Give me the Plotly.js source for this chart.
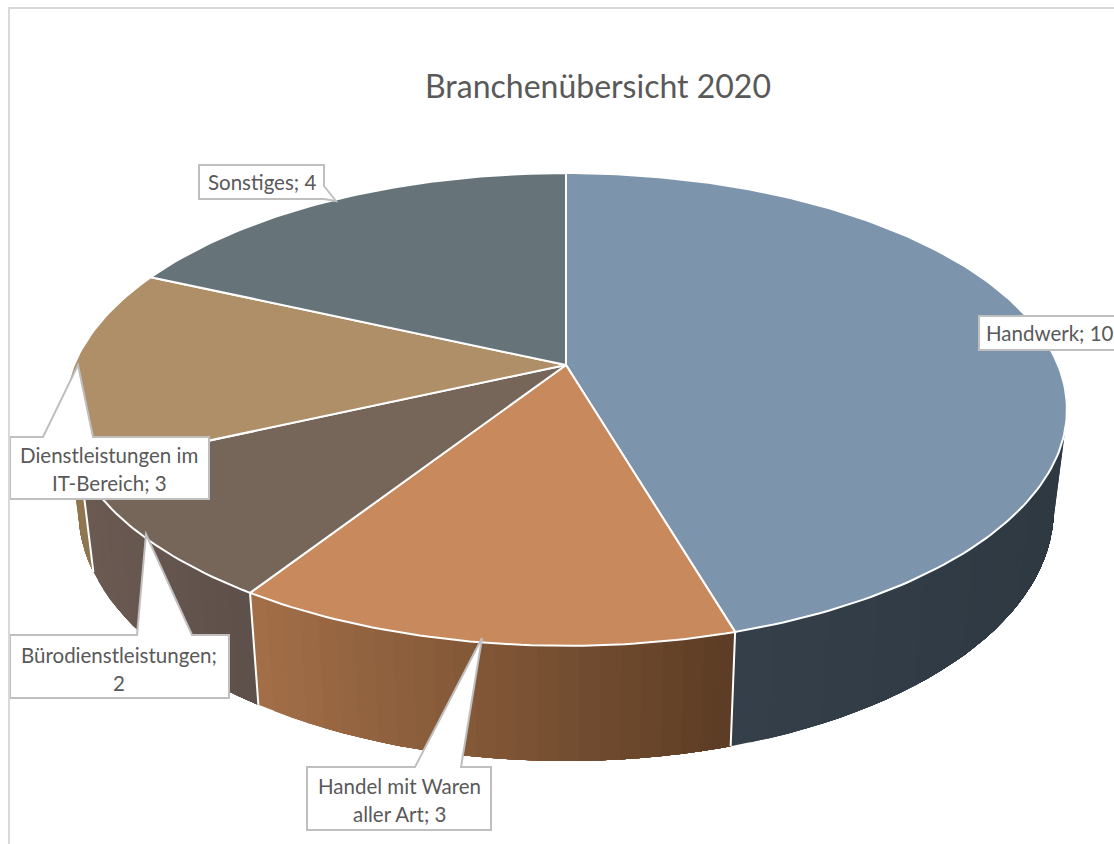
<!DOCTYPE html>
<html>
<head>
<meta charset="utf-8">
<script src="https://cdn.plot.ly/plotly-3.0.1.min.js"></script>
<style>html,body{margin:0;padding:0;background:#fff;overflow:hidden}</style>
</head>
<body>
<div id="chart" style="width:1114px;height:844px"></div>
<script>
const categories = ['Handwerk','Handel mit Waren aller Art','Bürodienstleistungen','Dienstleistungen im IT-Bereich','Sonstiges'];
const values = [10,3,2,3,4];
const labelLines = [['Handwerk; 10'],['Handel mit Waren','aller Art; 3'],['Bürodienstleistungen;','2'],['Dienstleistungen im','IT-Bereich; 3'],['Sonstiges; 4']];
const topColors = ['#7D95AC','#C8895C','#76665A','#AE8F68','#667479'];
const sideRight = ['#2F3942','#5A3B24','#5D4F49','#98805C','#566369'];
const sideLeft  = ['#343F4A','#A26E47','#6A5A52','#907650','#566369'];

// Perspective view of the pie disc (pixel-scaled axes)
const K = 0.188, CX = 566, TOP_Y = 365, TOP_RX = 492, TOP_RY = 228, BOT_Y = 463, BOT_RX = 479, BOT_RY = 242;
function proj(deg, level) {
  const a = deg * Math.PI / 180, u = Math.sin(a), v = -Math.cos(a), w = 1 - K * v;
  return level === 0 ? [CX + TOP_RX * u / w, TOP_Y + TOP_RY * v / w]
                     : [CX + BOT_RX * u / w, BOT_Y + BOT_RY * v / w];
}
function hex(c){return [1,3,5].map(i=>parseInt(c.substr(i,2),16));}
function mix(c1,c2,t){const a=hex(c1),b=hex(c2);return 'rgb('+a.map((x,i)=>Math.round(x+(b[i]-x)*t)).join(',')+')';}

const total = values.reduce((s,x)=>s+x,0);
const bounds = [0];
values.forEach(x => bounds.push(bounds[bounds.length-1] + x / total * 360));

const traces = [];
const base = {type:'scatter',mode:'lines',fill:'toself',hoverinfo:'skip',showlegend:false};

// rim strips (side wall): each strip reaches back under the previous one so no seams show
const RIM_FROM = 88, RIM_TO = 272, STEP = 2;
values.forEach((val,i) => {
  const a0 = Math.max(bounds[i], RIM_FROM), a1 = Math.min(bounds[i+1], RIM_TO);
  if (a1 <= a0) return;
  const xa = proj(a0,0)[0], xb = proj(a1,0)[0];
  for (let d = a1 - STEP; d > a0 - STEP; d -= STEP) {
    const s = Math.max(d, a0);
    const p1 = proj(a0,0), p2 = proj(s + STEP,0), p3 = proj(s + STEP,1), p4 = proj(a0,1);
    const xs=[], ys=[];
    for (let g = a0; g < s + STEP; g += STEP) { const p = proj(g,0); xs.push(p[0]); ys.push(p[1]); }
    xs.push(p2[0]); ys.push(p2[1]); xs.push(p3[0]); ys.push(p3[1]);
    for (let g = s + STEP - STEP; g >= a0; g -= STEP) { const p = proj(g,1); xs.push(p[0]); ys.push(p[1]); }
    xs.push(p4[0]); ys.push(p4[1]); xs.push(p1[0]); ys.push(p1[1]);
    const t = (p2[0]-xa)/((xb-xa)||1);
    const col = mix(sideRight[i], sideLeft[i], Math.max(0,Math.min(1,t)));
    traces.push(Object.assign({}, base, {x:xs,y:ys,fillcolor:col,line:{color:col,width:0},name:categories[i]}));
  }
});
// white seams on the rim
bounds.slice(1,-1).forEach(b => {
  if (b < RIM_FROM || b > RIM_TO) return;
  const p = proj(b,0), q = proj(b,1);
  traces.push({type:'scatter',mode:'lines',hoverinfo:'skip',showlegend:false,
    x:[p[0],q[0]],y:[p[1],q[1]],line:{color:'#FFFFFF',width:2}});
});
// top faces
values.forEach((val,i) => {
  const xs=[CX], ys=[TOP_Y];
  const n = Math.ceil((bounds[i+1]-bounds[i])/1);
  for (let j=0;j<=n;j++){
    const p = proj(bounds[i]+(bounds[i+1]-bounds[i])*j/n,0);
    xs.push(p[0]); ys.push(p[1]);
  }
  xs.push(CX); ys.push(TOP_Y);
  traces.push(Object.assign({}, base, {x:xs,y:ys,fillcolor:topColors[i],
    line:{color:'#FFFFFF',width:2},name:categories[i]}));
});

// callout outlines: box plus tail, in pixels
const callouts = [
  'M979,316 L1120,316 L1120,350 L979,350 Z',
  'M307,767 L415,767 L482,638 L461,767 L491,767 L491,830 L307,830 Z',
  'M10,635 L137,635 L146,534 L192,635 L229,635 L229,698 L10,698 Z',
  'M10,437 L43,437 L78,365 L93,437 L209,437 L209,499 L10,499 Z',
  'M199,165 L324,165 L324,186 L336,201 L324,199 L199,199 Z'
];
const shapes = callouts.map(p => ({type:'path',xref:'x',yref:'y',path:p,fillcolor:'#FFFFFF',
  line:{color:'#BFBFBF',width:2},layer:'above'}));
// chart frame
shapes.push({type:'path',xref:'x',yref:'y',path:'M9,850 L9,8 L1120,8',line:{color:'#D9D9D9',width:2},layer:'above'});

const labelCentres = [[1050,[333]],[399,[786,814]],[119,[655,683]],[109,[455,483]],[262,[182]]];
const annotations = [];
labelLines.forEach((lines,i) => lines.forEach((txt,j) => annotations.push({
  xref:'x',yref:'y',x:labelCentres[i][0],y:labelCentres[i][1][j],text:txt,showarrow:false,
  xanchor:'center',yanchor:'middle',font:{family:'Lato, Carlito, sans-serif',size:20.5,color:'#595959'}
})));

Plotly.newPlot('chart',traces,{
  width:1114,height:844,margin:{l:0,r:0,t:0,b:0},paper_bgcolor:'#FFFFFF',plot_bgcolor:'#FFFFFF',
  showlegend:false,hovermode:false,
  title:{text:'Branchenübersicht 2020',x:598/1114,xanchor:'center',y:1-87/844,yanchor:'middle',
    font:{family:'Lato, Carlito, sans-serif',size:32,color:'#595959'}},
  xaxis:{range:[0,1114],visible:false,fixedrange:true},
  yaxis:{range:[844,0],visible:false,fixedrange:true},
  shapes:shapes,annotations:annotations
},{displayModeBar:false,staticPlot:true});
</script>
</body>
</html>
